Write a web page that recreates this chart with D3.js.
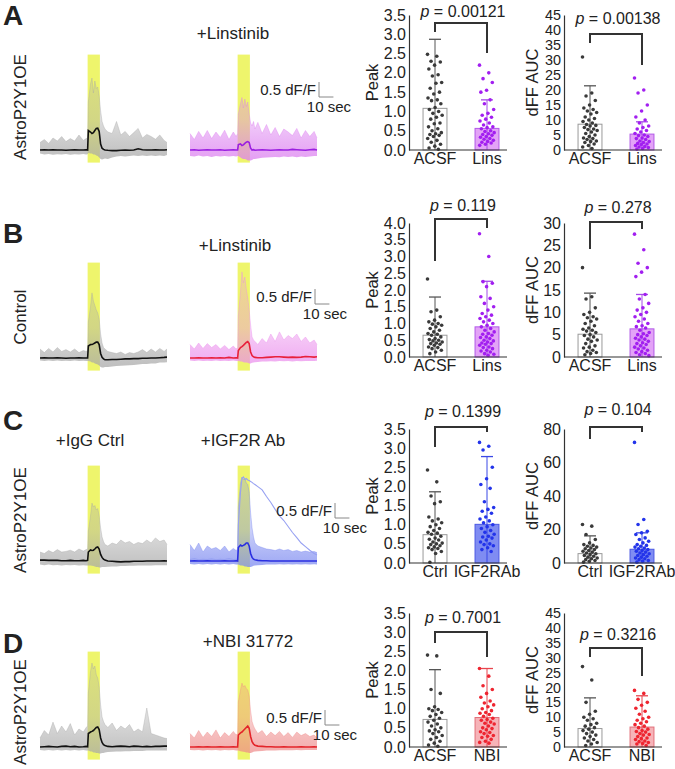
<!DOCTYPE html>
<html>
<head>
<meta charset="utf-8">
<script src="https://cdn.jsdelivr.net/npm/d3@7"></script>
<style>
  body { margin: 0; background: #fff; }
  text { font-family: Arial, "Liberation Sans", Helvetica, sans-serif; fill: #222; }
</style>
</head>
<body>
<svg id="fig" width="675" height="769"></svg>
<script>
// ---- trace data (dF/F, sampled at TIME seconds) ----
const TIME = [0,3,6,9,12,15,18,21,24,27,30,32,33,33.5,35,36,37,38,39,40,41,42,43,44,45,47,50,53,56,59,62,65,68,71,74,77,80,83,86,88];
const STIM = [33, 41.5];
const STIM_BAND = [-0.42, 3.18];

const A_CTRL_MEAN = [0,0.01,0,0.01,0,0,-0.01,0,0.01,0,0,0.01,0, 0.65,0.6,0.55,0.58,0.65,0.72,0.73,0.62,0.2,0.06,0.02, 0,-0.01,-0.02,-0.02,-0.01,0,-0.01,0,0.04,0.01,0,0,0.01,0,0,0.01];
const A_CTRL_HI = [0.25,0.35,0.22,0.4,0.3,0.45,0.28,0.38,0.3,0.5,0.32,0.38,0.4, 1.6,2.2,2.4,1.9,2.3,2.05,2.1,1.8,1.3,0.95,0.8, 0.7,0.6,0.55,0.95,0.5,0.62,0.45,0.58,0.72,0.4,0.52,0.45,0.36,0.5,0.32,0.25];
const A_CTRL_LO = [-0.12,-0.15,-0.13,-0.16,-0.14,-0.15,-0.13,-0.16,-0.14,-0.15,-0.13,-0.15,-0.14, -0.1,-0.12,-0.12,-0.15,-0.15,-0.18,-0.2,-0.25,-0.3,-0.32,-0.3, -0.28,-0.3,-0.25,-0.22,-0.2,-0.22,-0.2,-0.18,-0.2,-0.18,-0.2,-0.18,-0.2,-0.18,-0.2,-0.17];
const A_DRUG_MEAN = [0,0.01,-0.01,0,0.01,0,0,0.01,-0.01,0,0.01,0,0, 0.18,0.2,0.15,0.17,0.22,0.26,0.28,0.25,0.06,0,0.01, -0.01,0,0.01,0,-0.01,0,0.01,0,0,0.02,0.01,0,-0.01,0.01,0.02,0];
const A_DRUG_HI = [0.55,0.35,0.62,0.4,0.65,0.38,0.6,0.42,0.66,0.35,0.6,0.45,0.55, 1.2,1.55,1.75,1.4,1.7,1.45,1.6,1.2,0.9,0.8,0.95, 0.7,0.92,0.55,0.85,0.5,0.75,0.45,0.7,0.6,0.48,0.72,0.4,0.65,0.45,0.62,0.4];
const A_DRUG_LO = [-0.2,-0.22,-0.18,-0.22,-0.2,-0.23,-0.2,-0.22,-0.2,-0.22,-0.2,-0.22,-0.2, -0.2,-0.25,-0.28,-0.3,-0.3,-0.32,-0.35,-0.35,-0.35,-0.33,-0.3, -0.3,-0.28,-0.26,-0.25,-0.24,-0.23,-0.24,-0.22,-0.23,-0.22,-0.24,-0.22,-0.23,-0.22,-0.2,-0.2];

const B_CTRL_MEAN = [0,0.01,0,0,0.01,0,-0.01,0,0,0.01,0,0,0, 0.4,0.45,0.45,0.47,0.5,0.53,0.53,0.45,0.15,0.02,-0.03, -0.06,-0.06,-0.05,-0.05,-0.04,-0.03,-0.03,-0.02,-0.02,-0.01,-0.01,0,0,0.01,0.02,0.03];
const B_CTRL_HI = [0.3,0.18,0.32,0.2,0.35,0.22,0.28,0.2,0.3,0.18,0.25,0.22,0.25, 1.2,1.7,2.17,1.9,1.75,1.6,1.5,1.3,0.8,0.5,0.35, 0.3,0.22,0.18,0.15,0.2,0.12,0.18,0.15,0.2,0.28,0.18,0.3,0.2,0.32,0.22,0.3];
const B_CTRL_LO = [-0.08,-0.1,-0.08,-0.1,-0.08,-0.1,-0.09,-0.1,-0.08,-0.1,-0.09,-0.1,-0.1, -0.1,-0.12,-0.15,-0.15,-0.18,-0.2,-0.22,-0.25,-0.3,-0.32,-0.32, -0.3,-0.3,-0.28,-0.27,-0.26,-0.25,-0.24,-0.23,-0.22,-0.2,-0.2,-0.18,-0.18,-0.15,-0.15,-0.14];
const B_DRUG_MEAN = [0,0,0.01,0,0,0.01,0,0.01,0,0.02,0,0.01,0, 0.25,0.35,0.38,0.42,0.47,0.52,0.55,0.48,0.2,0.08,0.04, 0.02,0.01,0.01,0.02,0.03,0.04,0.04,0.03,0.02,0.03,0.02,0.03,0.05,0.04,0.03,0.04];
const B_DRUG_HI = [0.45,0.3,0.5,0.32,0.48,0.35,0.45,0.3,0.42,0.28,0.4,0.3,0.35, 1.4,2.2,2.87,2.5,2.7,2.3,2.0,1.6,1.1,0.7,0.6, 0.55,0.45,0.65,0.5,0.8,0.55,0.87,0.6,0.75,0.65,0.8,0.55,0.7,0.5,0.6,0.45];
const B_DRUG_LO = [-0.08,-0.1,-0.08,-0.1,-0.09,-0.1,-0.08,-0.1,-0.09,-0.1,-0.08,-0.1,-0.1, -0.1,-0.12,-0.12,-0.14,-0.15,-0.15,-0.16,-0.18,-0.18,-0.16,-0.15, -0.14,-0.13,-0.12,-0.12,-0.11,-0.12,-0.1,-0.11,-0.1,-0.12,-0.1,-0.11,-0.1,-0.1,-0.1,-0.09];

const C_CTRL_MEAN = [0.03,0.03,0.02,0.02,0.02,0.01,0.01,0.02,0.01,0.01,0.02,0.01,0.02, 0.3,0.37,0.35,0.36,0.4,0.45,0.47,0.4,0.22,0.12,0.06, 0.03,0,-0.01,-0.02,-0.03,-0.02,-0.02,-0.01,-0.01,-0.01,0,0,0,0,0.01,0];
const C_CTRL_HI = [0.3,0.25,0.35,0.28,0.38,0.3,0.32,0.36,0.3,0.4,0.33,0.38,0.4, 1.0,1.5,1.93,1.8,1.85,1.7,1.75,1.5,1.1,0.8,0.65, 0.55,0.5,0.6,0.55,0.7,0.6,0.65,0.55,0.62,0.58,0.7,0.6,0.77,0.65,0.7,0.55];
const C_CTRL_LO = [-0.12,-0.14,-0.12,-0.14,-0.13,-0.15,-0.13,-0.14,-0.13,-0.15,-0.14,-0.15,-0.15, -0.15,-0.15,-0.16,-0.17,-0.18,-0.2,-0.2,-0.22,-0.22,-0.2,-0.2, -0.2,-0.19,-0.18,-0.18,-0.17,-0.17,-0.16,-0.16,-0.15,-0.15,-0.15,-0.15,-0.14,-0.14,-0.14,-0.14];
const C_DRUG_MEAN = [0,0.01,0,0,0.01,0,0,0,0.01,0,0,0.01,0, 0.45,0.53,0.5,0.52,0.55,0.6,0.6,0.5,0.25,0.12,0.06, 0.04,0.02,0.01,0.01,0,0,0,0,0,0,0,0,0,0,0,0];
const C_DRUG_HI = [0.55,0.35,0.6,0.3,0.5,0.4,0.45,0.35,0.5,0.3,0.42,0.35,0.4, 1.8,2.6,2.8,2.7,2.75,2.6,2.55,2.3,1.6,1.1,0.8, 0.6,0.5,0.45,0.4,0.38,0.35,0.4,0.35,0.38,0.32,0.35,0.3,0.33,0.3,0.32,0.28];
const C_DRUG_LO = [-0.1,-0.12,-0.1,-0.12,-0.1,-0.12,-0.1,-0.12,-0.1,-0.12,-0.1,-0.12,-0.12, -0.12,-0.15,-0.15,-0.16,-0.18,-0.18,-0.2,-0.2,-0.2,-0.18,-0.16, -0.15,-0.14,-0.13,-0.12,-0.12,-0.12,-0.11,-0.12,-0.11,-0.12,-0.11,-0.12,-0.11,-0.12,-0.11,-0.12];
const C_DRUG_SLOW = [0.05,0.08,0.04,0.06,0.05,0.07,0.04,0.06,0.05,0.08,0.05,0.06,0.05, 1.2,2.3,2.75,2.8,2.72,2.75,2.7,2.68,2.65,2.62,2.58, 2.55,2.48,2.37,2.15,1.95,1.72,1.5,1.35,1.15,0.95,0.78,0.6,0.48,0.36,0.25,0.2];

const D_CTRL_MEAN = [0,0.01,0.02,0.01,0,0.02,0.03,0.01,0.02,0,0.01,0.02,0.01, 0.45,0.5,0.52,0.55,0.6,0.65,0.67,0.58,0.3,0.15,0.08, 0.05,0.02,0.01,0.02,0.03,0.02,0.01,0.03,0.02,0.01,0.02,0.01,0.02,0.02,0.03,0.03];
const D_CTRL_HI = [0.3,0.55,0.4,0.83,0.45,0.7,0.5,0.78,0.4,0.6,0.5,0.65,0.7, 1.8,2.5,2.8,2.6,2.7,2.4,2.3,2.0,1.4,1.0,0.85, 0.75,0.65,0.8,0.55,0.7,0.6,0.75,0.5,0.6,0.5,1.3,0.45,0.4,0.35,0.3,0.28];
const D_CTRL_LO = [-0.1,-0.12,-0.1,-0.12,-0.1,-0.12,-0.1,-0.12,-0.1,-0.12,-0.1,-0.12,-0.12, -0.12,-0.15,-0.15,-0.18,-0.18,-0.2,-0.2,-0.22,-0.22,-0.2,-0.2, -0.18,-0.17,-0.16,-0.15,-0.15,-0.14,-0.14,-0.13,-0.13,-0.13,-0.12,-0.12,-0.12,-0.12,-0.12,-0.12];
const D_DRUG_MEAN = [0,0,0.01,0,0.01,0,0,0.01,0,0,0.01,0,0, 0.4,0.47,0.5,0.55,0.6,0.65,0.7,0.62,0.35,0.18,0.1, 0.06,0.03,0.02,0.01,0.01,0,0,0.01,0,0,0,0.01,0,0,0.01,0];
const D_DRUG_HI = [0.45,0.3,0.55,0.32,0.5,0.35,0.57,0.3,0.48,0.35,0.52,0.4,0.45, 1.5,1.9,2.13,2.0,2.05,1.95,1.9,1.7,1.2,0.85,0.7, 0.6,0.45,0.55,0.35,0.5,0.38,0.52,0.35,0.48,0.32,0.5,0.38,0.45,0.35,0.4,0.3];
const D_DRUG_LO = [-0.1,-0.11,-0.1,-0.12,-0.1,-0.11,-0.1,-0.12,-0.1,-0.11,-0.1,-0.12,-0.12, -0.12,-0.14,-0.15,-0.16,-0.17,-0.18,-0.18,-0.2,-0.2,-0.18,-0.16, -0.15,-0.14,-0.13,-0.12,-0.12,-0.12,-0.11,-0.11,-0.11,-0.11,-0.1,-0.11,-0.1,-0.1,-0.1,-0.1];

// ---- bar / scatter data ----
const A_CATS = ["ACSF", "Lins"];
const A_PEAK_ACSF = [2.48,2.43,2.3,2.28,2.2,2.1,1.95,1.92,1.75,1.73,1.6,1.5,1.45,1.35,1.3,1.28,1.2,1.1,1.05,1.0,0.95,0.9,0.85,0.8,0.7,0.68,0.6,0.55,0.5,0.45,0.42,0.4,0.38,0.35,0.3,0.25,0.2,0.15,0.1,0.05,0.02];
const A_PEAK_LINS = [2.2,2.0,1.85,1.75,1.55,1.5,1.3,1.2,1.05,0.95,0.9,0.85,0.8,0.75,0.7,0.65,0.6,0.58,0.55,0.5,0.48,0.45,0.42,0.4,0.38,0.35,0.33,0.3,0.28,0.25,0.22,0.2,0.18,0.15,0.12];
const A_AUC_ACSF = [31,19,18,16.5,15,14,13.5,13,12.5,12,11,10.5,10,9.5,9,8.5,8.2,8,7.5,7,6.8,6.5,6,5.5,5,4.5,4,3.8,3.5,3,2.8,2.5,2,1.5,1,0.5];
const A_AUC_LINS = [24,20,19,15,13,11,10,9,8,7.5,7,6.5,6,5.5,5,4.8,4.5,4,3.8,3.5,3,2.8,2.5,2.2,2,1.8,1.5,1.2,1,0.8,0.5,0.3];
const A_PEAK_MEAN = [1.08, 0.56], A_PEAK_ERR = [2.87, 1.30];
const A_AUC_MEAN = [8.6, 5.3], A_AUC_ERR = [21.4, 9.4];
const A_P = ["0.00121", "0.00138"];

const B_CATS = ["ACSF", "Lins"];
const B_PEAK_ACSF = [2.33,1.4,1.35,1.2,1.1,1.05,1.0,0.98,0.95,0.9,0.85,0.8,0.75,0.7,0.68,0.65,0.6,0.55,0.52,0.5,0.48,0.45,0.42,0.4,0.38,0.35,0.3,0.28,0.25,0.2,0.15,0.1];
const B_PEAK_LINS = [3.68,3.0,2.25,2.2,2.1,1.8,1.75,1.6,1.5,1.4,1.3,1.25,1.2,1.15,1.1,1.05,1.0,0.95,0.9,0.85,0.8,0.75,0.7,0.68,0.65,0.6,0.58,0.55,0.5,0.48,0.45,0.42,0.4,0.38,0.35,0.3,0.28,0.25,0.2,0.18,0.15,0.1,0.08,0.05];
const B_AUC_ACSF = [20,13.5,13,11,10,9.5,9,8.8,8.5,8,7.5,7,6.5,6.2,6,5.8,5.5,5,4.8,4.5,4,3.8,3.5,3,2.5,2.2,2,1.5,1.2,1,0.8,0.5];
const B_AUC_LINS = [27.5,24,21,20,19,18,14,13,12,11,10.5,10,9.5,9,8.5,8,7.5,7,6.8,6.5,6,5.5,5.2,5,4.8,4.5,4.2,4,3.8,3.5,3.2,3,2.8,2.5,2.2,2,1.8,1.5,1.2,1,0.8,0.5,0.3];
const B_PEAK_MEAN = [0.65, 0.90], B_PEAK_ERR = [1.79, 2.26];
const B_AUC_MEAN = [5.1, 6.3], B_AUC_ERR = [14.3, 14.0];
const B_P = ["0.119", "0.278"];

const C_CATS = ["Ctrl", "IGF2RAb"];
const C_PEAK_CTRL = [2.43,2.12,1.75,1.6,1.55,1.2,1.15,1.1,1.05,1.0,0.95,0.9,0.85,0.8,0.78,0.75,0.7,0.65,0.62,0.6,0.55,0.52,0.5,0.48,0.45,0.42,0.4,0.38,0.35,0.3,0.25,0.02];
const C_PEAK_IGF = [3.15,3.05,2.95,2.5,2.2,2.05,1.95,1.6,1.45,1.4,1.35,1.3,1.2,1.15,1.1,1.05,1.0,0.95,0.9,0.85,0.8,0.75,0.7,0.68,0.65,0.6,0.55,0.5,0.48,0.45,0.4,0.35,0.3];
const C_AUC_CTRL = [23,22,17,14,12,11,10.5,10,9.5,9,8.5,8,7.5,7,6.5,6,5.5,5,4.5,4,3.5,3,2.5,2,1.5,1,0.5];
const C_AUC_IGF = [72,26,23,19,18,17,15,14,13,12,11,10.5,10,9.5,9,8.5,8,7.5,7,6.5,6,5.5,5,4.5,4,3.5,3,2.5,2,1.5,1,0.5];
const C_PEAK_MEAN = [0.74, 1.01], C_PEAK_ERR = [1.86, 2.78];
const C_AUC_MEAN = [5.6, 8.2], C_AUC_ERR = [16.2, 18.0];
const C_P = ["0.1399", "0.104"];

const D_CATS = ["ACSF", "NBI"];
const D_PEAK_ACSF = [2.4,2.38,1.5,1.4,1.05,1.0,0.98,0.95,0.9,0.85,0.8,0.75,0.7,0.65,0.6,0.55,0.5,0.45,0.42,0.4,0.35,0.3,0.25,0.2,0.15,0.1,0.05,0.02];
const D_PEAK_NBI = [2.05,1.85,1.6,1.5,1.4,1.3,1.2,1.15,1.1,1.05,1.0,0.95,0.9,0.88,0.85,0.8,0.75,0.72,0.7,0.65,0.62,0.6,0.55,0.5,0.48,0.45,0.4,0.38,0.35,0.3,0.28,0.25,0.2,0.15,0.12,0.1];
const D_AUC_ACSF = [27,22.5,15,12,11,10,9.5,9,8,7.5,7,6.5,6,5.5,5,4.5,4,3.5,3,2.5,2,1.5,1,0.5];
const D_AUC_NBI = [19,18,16,15,14,13,12,11,10,9.5,9,8.5,8,7.5,7,6.5,6,5.5,5.2,5,4.5,4.2,4,3.5,3,2.8,2.5,2,1.8,1.5,1.2,1,0.5];
const D_PEAK_MEAN = [0.72, 0.77], D_PEAK_ERR = [2.02, 2.05];
const D_AUC_MEAN = [6.2, 6.7], D_AUC_ERR = [16.5, 17.2];
const D_P = ["0.7001", "0.3216"];

const PEAK_TICKS_35 = [0, 0.5, 1.0, 1.5, 2.0, 2.5, 3.0, 3.5];
const PEAK_TICKS_40 = [0, 0.5, 1.0, 1.5, 2.0, 2.5, 3.0, 3.5, 4.0];
const AUC_TICKS_45 = [0, 5, 10, 15, 20, 25, 30, 35, 40, 45];
const AUC_TICKS_30 = [0, 5, 10, 15, 20, 25, 30];
const AUC_TICKS_80 = [0, 20, 40, 60, 80];

// colours
const YELLOW = "#eef56c";
const GRAY_CLOUD = "#a9a9a9";
const CTRL_STYLE = {fill: "#ffffff", stroke: "#9a9a9a", dot: "#3a3a3a", err: "#555"};

const svg = d3.select("#fig");
const defs = svg.append("defs");
let gradId = 0;

// ---- traces ----
function drawTraces(x0, base, d, cloud, lineColor) {
  const x = d3.scaleLinear().domain([0, 88]).range([x0, x0 + 127]);
  const y = d3.scaleLinear().domain([0, 1]).range([base, base - 30]);
  const g = svg.append("g");

  // cloud denser near the baseline, thinning out towards the peaks
  const id = "cloud" + (gradId++);
  const grad = defs.append("linearGradient").attr("id", id)
    .attr("gradientUnits", "userSpaceOnUse")
    .attr("x1", 0).attr("x2", 0).attr("y1", y(-0.3)).attr("y2", y(2.6));
  grad.append("stop").attr("offset", 0).attr("stop-color", cloud).attr("stop-opacity", 0.75);
  grad.append("stop").attr("offset", 0.2).attr("stop-color", cloud).attr("stop-opacity", 0.6);
  grad.append("stop").attr("offset", 0.45).attr("stop-color", cloud).attr("stop-opacity", 0.4);
  grad.append("stop").attr("offset", 1).attr("stop-color", cloud).attr("stop-opacity", 0.28);

  g.append("rect")
    .attr("x", x(STIM[0])).attr("width", x(STIM[1]) - x(STIM[0]))
    .attr("y", y(STIM_BAND[1])).attr("height", y(STIM_BAND[0]) - y(STIM_BAND[1]))
    .attr("fill", YELLOW);

  const area = d3.area()
    .x((v, i) => x(TIME[i]))
    .y0((v, i) => y(d.lo[i]))
    .y1(v => y(v));
  g.append("path").datum(d.hi).attr("d", area).attr("fill", `url(#${id})`);

  const line = d3.line().x((v, i) => x(TIME[i])).y(v => y(v));
  g.append("path").datum(d.hi).attr("d", line)
    .attr("fill", "none").attr("stroke", cloud).attr("stroke-opacity", 0.55).attr("stroke-width", 0.7);

  if (d.slow) {
    g.append("path").datum(d.slow).attr("d", line)
      .attr("fill", "none").attr("stroke", "#97a1f2").attr("stroke-width", 1.1);
  }

  g.append("path").datum(d.mean).attr("d", line)
    .attr("fill", "none").attr("stroke", lineColor).attr("stroke-width", 1.6);

  return {x, y};
}

function drawScaleBar(sc, sx, sy) {
  const h = sc.y(0) - sc.y(0.5);
  const w = sc.x(10) - sc.x(0);
  svg.append("path")
    .attr("d", `M${sx},${sy - h}V${sy}H${sx + w}`)
    .attr("fill", "none").attr("stroke", "#888").attr("stroke-width", 1);
  svg.append("text").attr("x", sx - 3).attr("y", sy - 2)
    .attr("text-anchor", "end").attr("font-size", 15).text("0.5 dF/F");
  svg.append("text").attr("x", sx + 32).attr("y", sy + 15)
    .attr("text-anchor", "end").attr("font-size", 15).text("10 sec");
}

// ---- bar charts ----
function drawBarChart(o) {
  const g = svg.append("g");
  const y = d3.scaleLinear().domain([0, o.ticks[o.ticks.length - 1]]).range([o.bottom, o.top]);
  const x = d3.scaleBand().domain(o.cats).range([o.ax, o.ax + 104])
    .paddingInner(0.54).paddingOuter(0.27);
  const styles = [CTRL_STYLE, o.style];

  o.cats.forEach((c, k) => {
    const s = styles[k];
    const cx = x(c) + x.bandwidth() / 2;
    g.append("rect")
      .attr("x", x(c)).attr("width", x.bandwidth())
      .attr("y", y(o.means[k])).attr("height", y(0) - y(o.means[k]))
      .attr("fill", s.fill).attr("stroke", s.stroke).attr("stroke-width", 1);
    g.append("line").attr("x1", cx).attr("x2", cx)
      .attr("y1", y(0)).attr("y2", y(o.errs[k]))
      .attr("stroke", s.err).attr("stroke-width", 1);
    g.append("line").attr("x1", cx - 6).attr("x2", cx + 6)
      .attr("y1", y(o.errs[k])).attr("y2", y(o.errs[k]))
      .attr("stroke", s.err).attr("stroke-width", 1.3);
    g.selectAll(null).data(o.groups[k]).join("circle")
      .attr("cx", (v, i) => cx + (((i * 0.6180339887) % 1) - 0.5) * 15)
      .attr("cy", v => y(v))
      .attr("r", 1.8)
      .attr("fill", s.dot);
  });

  // keep tick labels from crowding on the densely ticked axes
  const step = (o.bottom - o.top) / (o.ticks.length - 1);
  const tickFont = Math.min(16, step - 0.6);

  const yAxis = g.append("g").attr("transform", `translate(${o.ax},0)`)
    .call(d3.axisLeft(y).tickValues(o.ticks).tickFormat(d3.format(o.fmt))
      .tickSize(0).tickSizeOuter(0).tickPadding(3));
  yAxis.select(".domain").attr("stroke", "#333").attr("stroke-width", 1.2);
  yAxis.selectAll("text").attr("font-size", tickFont).attr("fill", "#222")
    .attr("font-family", "Arial, 'Liberation Sans', sans-serif");

  g.append("line").attr("x1", o.ax).attr("x2", o.ax + 98)
    .attr("y1", y(0)).attr("y2", y(0)).attr("stroke", "#333").attr("stroke-width", 1.2);

  const xAxis = g.append("g").attr("transform", `translate(0,${y(0)})`)
    .call(d3.axisBottom(x).tickSize(0).tickPadding(3));
  xAxis.select(".domain").remove();
  xAxis.selectAll("text").attr("font-size", 16).attr("fill", "#222")
    .attr("font-family", "Arial, 'Liberation Sans', sans-serif");

  g.append("text")
    .attr("transform", `translate(${o.ax + o.labelDx},${(o.top + o.bottom) / 2}) rotate(-90)`)
    .attr("text-anchor", "middle").attr("font-size", 16.5).text(o.yLabel);

  const c0 = x(o.cats[0]) + x.bandwidth() / 2;
  const c1 = x(o.cats[1]) + x.bandwidth() / 2;
  g.append("path")
    .attr("d", `M${c0},${o.bracket[1]}V${o.bracket[0]}H${c1}V${o.bracket[2]}`)
    .attr("fill", "none").attr("stroke", "#333").attr("stroke-width", 2);
  const pt = g.append("text").attr("x", (c0 + c1) / 2 + 2).attr("y", o.pY)
    .attr("text-anchor", "middle").attr("font-size", 16);
  pt.append("tspan").attr("font-style", "italic").text("p");
  pt.append("tspan").text(" = " + o.p);
}

// ---- row layout ----
const ROWS = [
  {letter: "A", letterY: 25, label: "AstroP2Y1OE", labelY: 107, base: 150,
   titles: [[233, 39, "+Linstinib"]],
   ctrl: {mean: A_CTRL_MEAN, hi: A_CTRL_HI, lo: A_CTRL_LO},
   drug: {mean: A_DRUG_MEAN, hi: A_DRUG_HI, lo: A_DRUG_LO},
   cloud: "#dc80f0", line: "#9b1fe0", scale: [319, 97],
   top: 15, bottom: 150, cats: A_CATS,
   peak: [A_PEAK_ACSF, A_PEAK_LINS], peakMean: A_PEAK_MEAN, peakErr: A_PEAK_ERR, peakTicks: PEAK_TICKS_35,
   auc: [A_AUC_ACSF, A_AUC_LINS], aucMean: A_AUC_MEAN, aucErr: A_AUC_ERR, aucTicks: AUC_TICKS_45,
   p: A_P, pY: [17, 24], brPeak: [23, 32, 53], brAuc: [34, 43, 65],
   style: {fill: "#e3a3f7", stroke: "#b25ae8", dot: "#a21ff0", err: "#a54ae8"}},
  {letter: "B", letterY: 243, label: "Control", labelY: 317, base: 358,
   titles: [[235, 251, "+Linstinib"]],
   ctrl: {mean: B_CTRL_MEAN, hi: B_CTRL_HI, lo: B_CTRL_LO},
   drug: {mean: B_DRUG_MEAN, hi: B_DRUG_HI, lo: B_DRUG_LO},
   cloud: "#ea8cec", line: "#e8203c", scale: [315, 304],
   top: 223, bottom: 357, cats: B_CATS,
   peak: [B_PEAK_ACSF, B_PEAK_LINS], peakMean: B_PEAK_MEAN, peakErr: B_PEAK_ERR, peakTicks: PEAK_TICKS_40,
   auc: [B_AUC_ACSF, B_AUC_LINS], aucMean: B_AUC_MEAN, aucErr: B_AUC_ERR, aucTicks: AUC_TICKS_30,
   p: B_P, pY: [211, 213], brPeak: [219, 261, 228], brAuc: [222, 249, 229],
   style: {fill: "#e3a3f7", stroke: "#b25ae8", dot: "#a21ff0", err: "#a54ae8"}},
  {letter: "C", letterY: 430, label: "AstroP2Y1OE", labelY: 520, base: 561,
   titles: [[90, 446, "+IgG Ctrl"], [243, 446, "+IGF2R Ab"]],
   ctrl: {mean: C_CTRL_MEAN, hi: C_CTRL_HI, lo: C_CTRL_LO},
   drug: {mean: C_DRUG_MEAN, hi: C_DRUG_HI, lo: C_DRUG_LO, slow: C_DRUG_SLOW},
   cloud: "#7886f0", line: "#2a2fe0", scale: [335, 518],
   top: 429, bottom: 563, cats: C_CATS,
   peak: [C_PEAK_CTRL, C_PEAK_IGF], peakMean: C_PEAK_MEAN, peakErr: C_PEAK_ERR, peakTicks: PEAK_TICKS_35,
   auc: [C_AUC_CTRL, C_AUC_IGF], aucMean: C_AUC_MEAN, aucErr: C_AUC_ERR, aucTicks: AUC_TICKS_80,
   p: C_P, pY: [417, 415], brPeak: [427, 447, 432], brAuc: [427, 439, 432],
   style: {fill: "#7f8cf2", stroke: "#4a58e4", dot: "#2334ea", err: "#3a48e6"}},
  {letter: "D", letterY: 653, label: "AstroP2Y1OE", labelY: 712, base: 747,
   titles: [[248, 647, "+NBI 31772"]],
   ctrl: {mean: D_CTRL_MEAN, hi: D_CTRL_HI, lo: D_CTRL_LO},
   drug: {mean: D_DRUG_MEAN, hi: D_DRUG_HI, lo: D_DRUG_LO},
   cloud: "#ee8a8a", line: "#e3242a", scale: [325, 725],
   top: 613, bottom: 747, cats: D_CATS,
   peak: [D_PEAK_ACSF, D_PEAK_NBI], peakMean: D_PEAK_MEAN, peakErr: D_PEAK_ERR, peakTicks: PEAK_TICKS_35,
   auc: [D_AUC_ACSF, D_AUC_NBI], aucMean: D_AUC_MEAN, aucErr: D_AUC_ERR, aucTicks: AUC_TICKS_45,
   p: D_P, pY: [623, 640], brPeak: [632, 643, 657], brAuc: [648, 657, 676],
   style: {fill: "#f6b3b8", stroke: "#e2707a", dot: "#ee2530", err: "#e8454e"}}
];

ROWS.forEach(r => {
  svg.append("text").attr("x", 3).attr("y", r.letterY)
    .attr("font-size", 28).attr("font-weight", "bold").attr("fill", "#111").text(r.letter);
  svg.append("text")
    .attr("transform", `translate(26,${r.labelY}) rotate(-90)`)
    .attr("text-anchor", "middle").attr("font-size", 17).text(r.label);
  r.titles.forEach(t => {
    svg.append("text").attr("x", t[0]).attr("y", t[1])
      .attr("text-anchor", "middle").attr("font-size", 17).text(t[2]);
  });

  drawTraces(40, r.base, r.ctrl, GRAY_CLOUD, "#111");
  const sc = drawTraces(190, r.base, r.drug, r.cloud, r.line);
  drawScaleBar(sc, r.scale[0], r.scale[1]);

  drawBarChart({ax: 409, top: r.top, bottom: r.bottom, cats: r.cats, groups: r.peak,
    means: r.peakMean, errs: r.peakErr, ticks: r.peakTicks, fmt: ".1f", yLabel: "Peak",
    labelDx: -31, p: r.p[0], pY: r.pY[0], bracket: r.brPeak, style: r.style});
  drawBarChart({ax: 564, top: r.top, bottom: r.bottom, cats: r.cats, groups: r.auc,
    means: r.aucMean, errs: r.aucErr, ticks: r.aucTicks, fmt: "d", yLabel: "dFF AUC",
    labelDx: -26, p: r.p[1], pY: r.pY[1], bracket: r.brAuc, style: r.style});
});
</script>
</body>
</html>
